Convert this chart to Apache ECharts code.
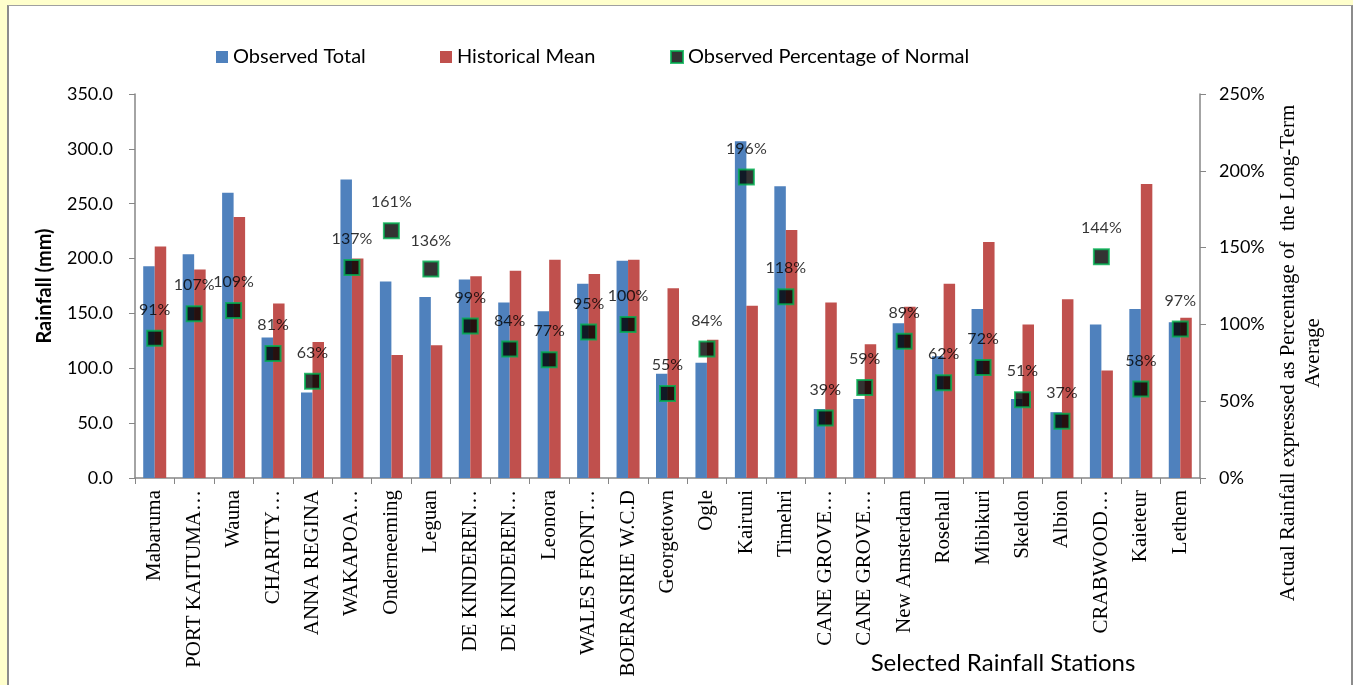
<!DOCTYPE html>
<html>
<head>
<meta charset="utf-8">
<script src="https://cdn.jsdelivr.net/npm/echarts@6/dist/echarts.min.js"></script>
<style>
html,body{margin:0;padding:0;background:#ffffcc;overflow:hidden;}
#frame{position:absolute;left:7px;top:5px;width:1342px;height:700px;background:#fff;border-left:2px solid #8c8c8c;border-top:1px solid #a0a0a0;border-right:2px solid #8c8c8c;}
#chart{position:absolute;left:0;top:0;width:1353px;height:685px;}
</style>
</head>
<body>
<div id="frame"></div>
<div id="chart"></div>
<script>
var categories = ['Mabaruma','PORT KAITUMA…','Wauna','CHARITY…','ANNA REGINA','WAKAPOA…','Onderneeming','Leguan','DE KINDEREN…','DE KINDEREN…','Leonora','WALES FRONT…','BOERASIRIE W.C.D','Georgetown','Ogle','Kairuni','Timehri','CANE GROVE…','CANE GROVE…','New Amsterdam','Rosehall','Mibikuri','Skeldon','Albion','CRABWOOD…','Kaieteur','Lethem'];
var observedTotal = [193,204,260,128,78,272,179,165,181,160,152,177,198,95,105,307,266,63,72,141,111,154,72,60,140,154,142];
var historicalMean = [211,190,238,159,124,200,112,121,184,189,199,186,199,173,126,157,226,160,122,156,177,215,140,163,98,268,146];
var percentOfNormal = [91,107,109,81,63,137,161,136,99,84,77,95,100,55,84,196,118,39,59,89,62,72,51,37,144,58,97];
var leftTicks = {min:0, max:350, interval:50};
var rightTicks = {min:0, max:250, interval:50};

var sans = 'Lato, "Noto Sans", sans-serif';
var serif = '"Liberation Serif", "DejaVu Serif", serif';
var axisGray = '#868686';
var legendText = {fontFamily: sans, fontSize: 20, color: '#000'};

var chart = echarts.init(document.getElementById('chart'), null, {renderer:'canvas'});
chart.setOption({
  backgroundColor: 'transparent',
  animation: false,
  legend: [
    {top: 42, left: 211, itemWidth: 12, itemHeight: 12, itemGap: 4, textStyle: legendText,
     data: [{name:'Observed Total', icon:'rect'}]},
    {top: 42, left: 435, itemWidth: 12, itemHeight: 12, itemGap: 4, textStyle: legendText,
     data: [{name:'Historical Mean', icon:'rect'}]},
    {top: 42, left: 665, itemWidth: 12, itemHeight: 12, itemGap: 4, textStyle: legendText,
     data: [{name:'Observed Percentage of Normal', icon:'rect', itemStyle:{color:'#000', borderColor:'#00b050', borderWidth:2}}]}
  ],
  grid: {left:135, right:153, top:94, bottom:207, containLabel:false, outerBoundsMode:'none'},
  xAxis: {
    type: 'category',
    data: categories,
    boundaryGap: true,
    name: 'Selected Rainfall Stations',
    nameLocation: 'middle',
    nameMoveOverlap: false,
    nameGap: 173,
    nameTextStyle: {fontFamily: sans, fontSize: 24, color:'#000', padding:[0,0,0,671]},
    axisLine: {lineStyle:{color:axisGray, width:1.5}},
    axisTick: {show:true, alignWithLabel:false, length:6, lineStyle:{color:axisGray}},
    axisLabel: {interval:0, rotate:90, margin:12, fontFamily: serif, fontSize:21, color:'#000'},
    splitLine: {show:false}
  },
  yAxis: [
    {
      type:'value', min:leftTicks.min, max:leftTicks.max, interval:leftTicks.interval,
      name:'Rainfall (mm)', nameLocation:'middle', nameGap:80, nameMoveOverlap: false,
      nameTextStyle:{fontFamily: sans, fontSize:20, fontWeight:'bold', color:'#000'},
      axisLine:{show:true, lineStyle:{color:axisGray, width:1.5}},
      axisTick:{show:true, length:6, lineStyle:{color:axisGray}},
      axisLabel:{fontFamily: sans, fontSize:18, color:'#000', margin:22, formatter:function(v){return v.toFixed(1);}},
      splitLine:{show:false}
    },
    {
      type:'value', min:rightTicks.min, max:rightTicks.max, interval:rightTicks.interval,
      position:'right',
      name:'Actual Rainfall expressed as Percentage of  the Long-Term\nAverage', nameLocation:'middle', nameGap:76, nameMoveOverlap: false,
      nameTextStyle:{fontFamily: serif, fontSize:21, color:'#000', lineHeight:25, align:'center', padding:[0,134,0,0]},
      axisLine:{show:true, lineStyle:{color:axisGray, width:1.5}},
      axisTick:{show:true, length:6, lineStyle:{color:axisGray}},
      axisLabel:{fontFamily: sans, fontSize:18, color:'#000', margin:19, formatter:function(v){return v + '%';}},
      splitLine:{show:false}
    }
  ],
  series: [
    {name:'Observed Total', type:'bar', yAxisIndex:0, data:observedTotal, barWidth:11.5, barGap:'0%', itemStyle:{color:'#4f81bd'}},
    {name:'Historical Mean', type:'bar', yAxisIndex:0, data:historicalMean, barWidth:11.5, barGap:'0%', itemStyle:{color:'#c0504d'}},
    {name:'Observed Percentage of Normal', type:'scatter', yAxisIndex:1, data:percentOfNormal, z:5,
      symbol:'rect', symbolSize:15,
      itemStyle:{color:'#000', borderColor:'#00b050', borderWidth:2},
      label:{show:true, position:'top', distance:12, fontFamily: sans, fontSize:16, color:'#000', formatter:function(p){return p.value + '%';}}
    }
  ]
});
</script>
</body>
</html>
